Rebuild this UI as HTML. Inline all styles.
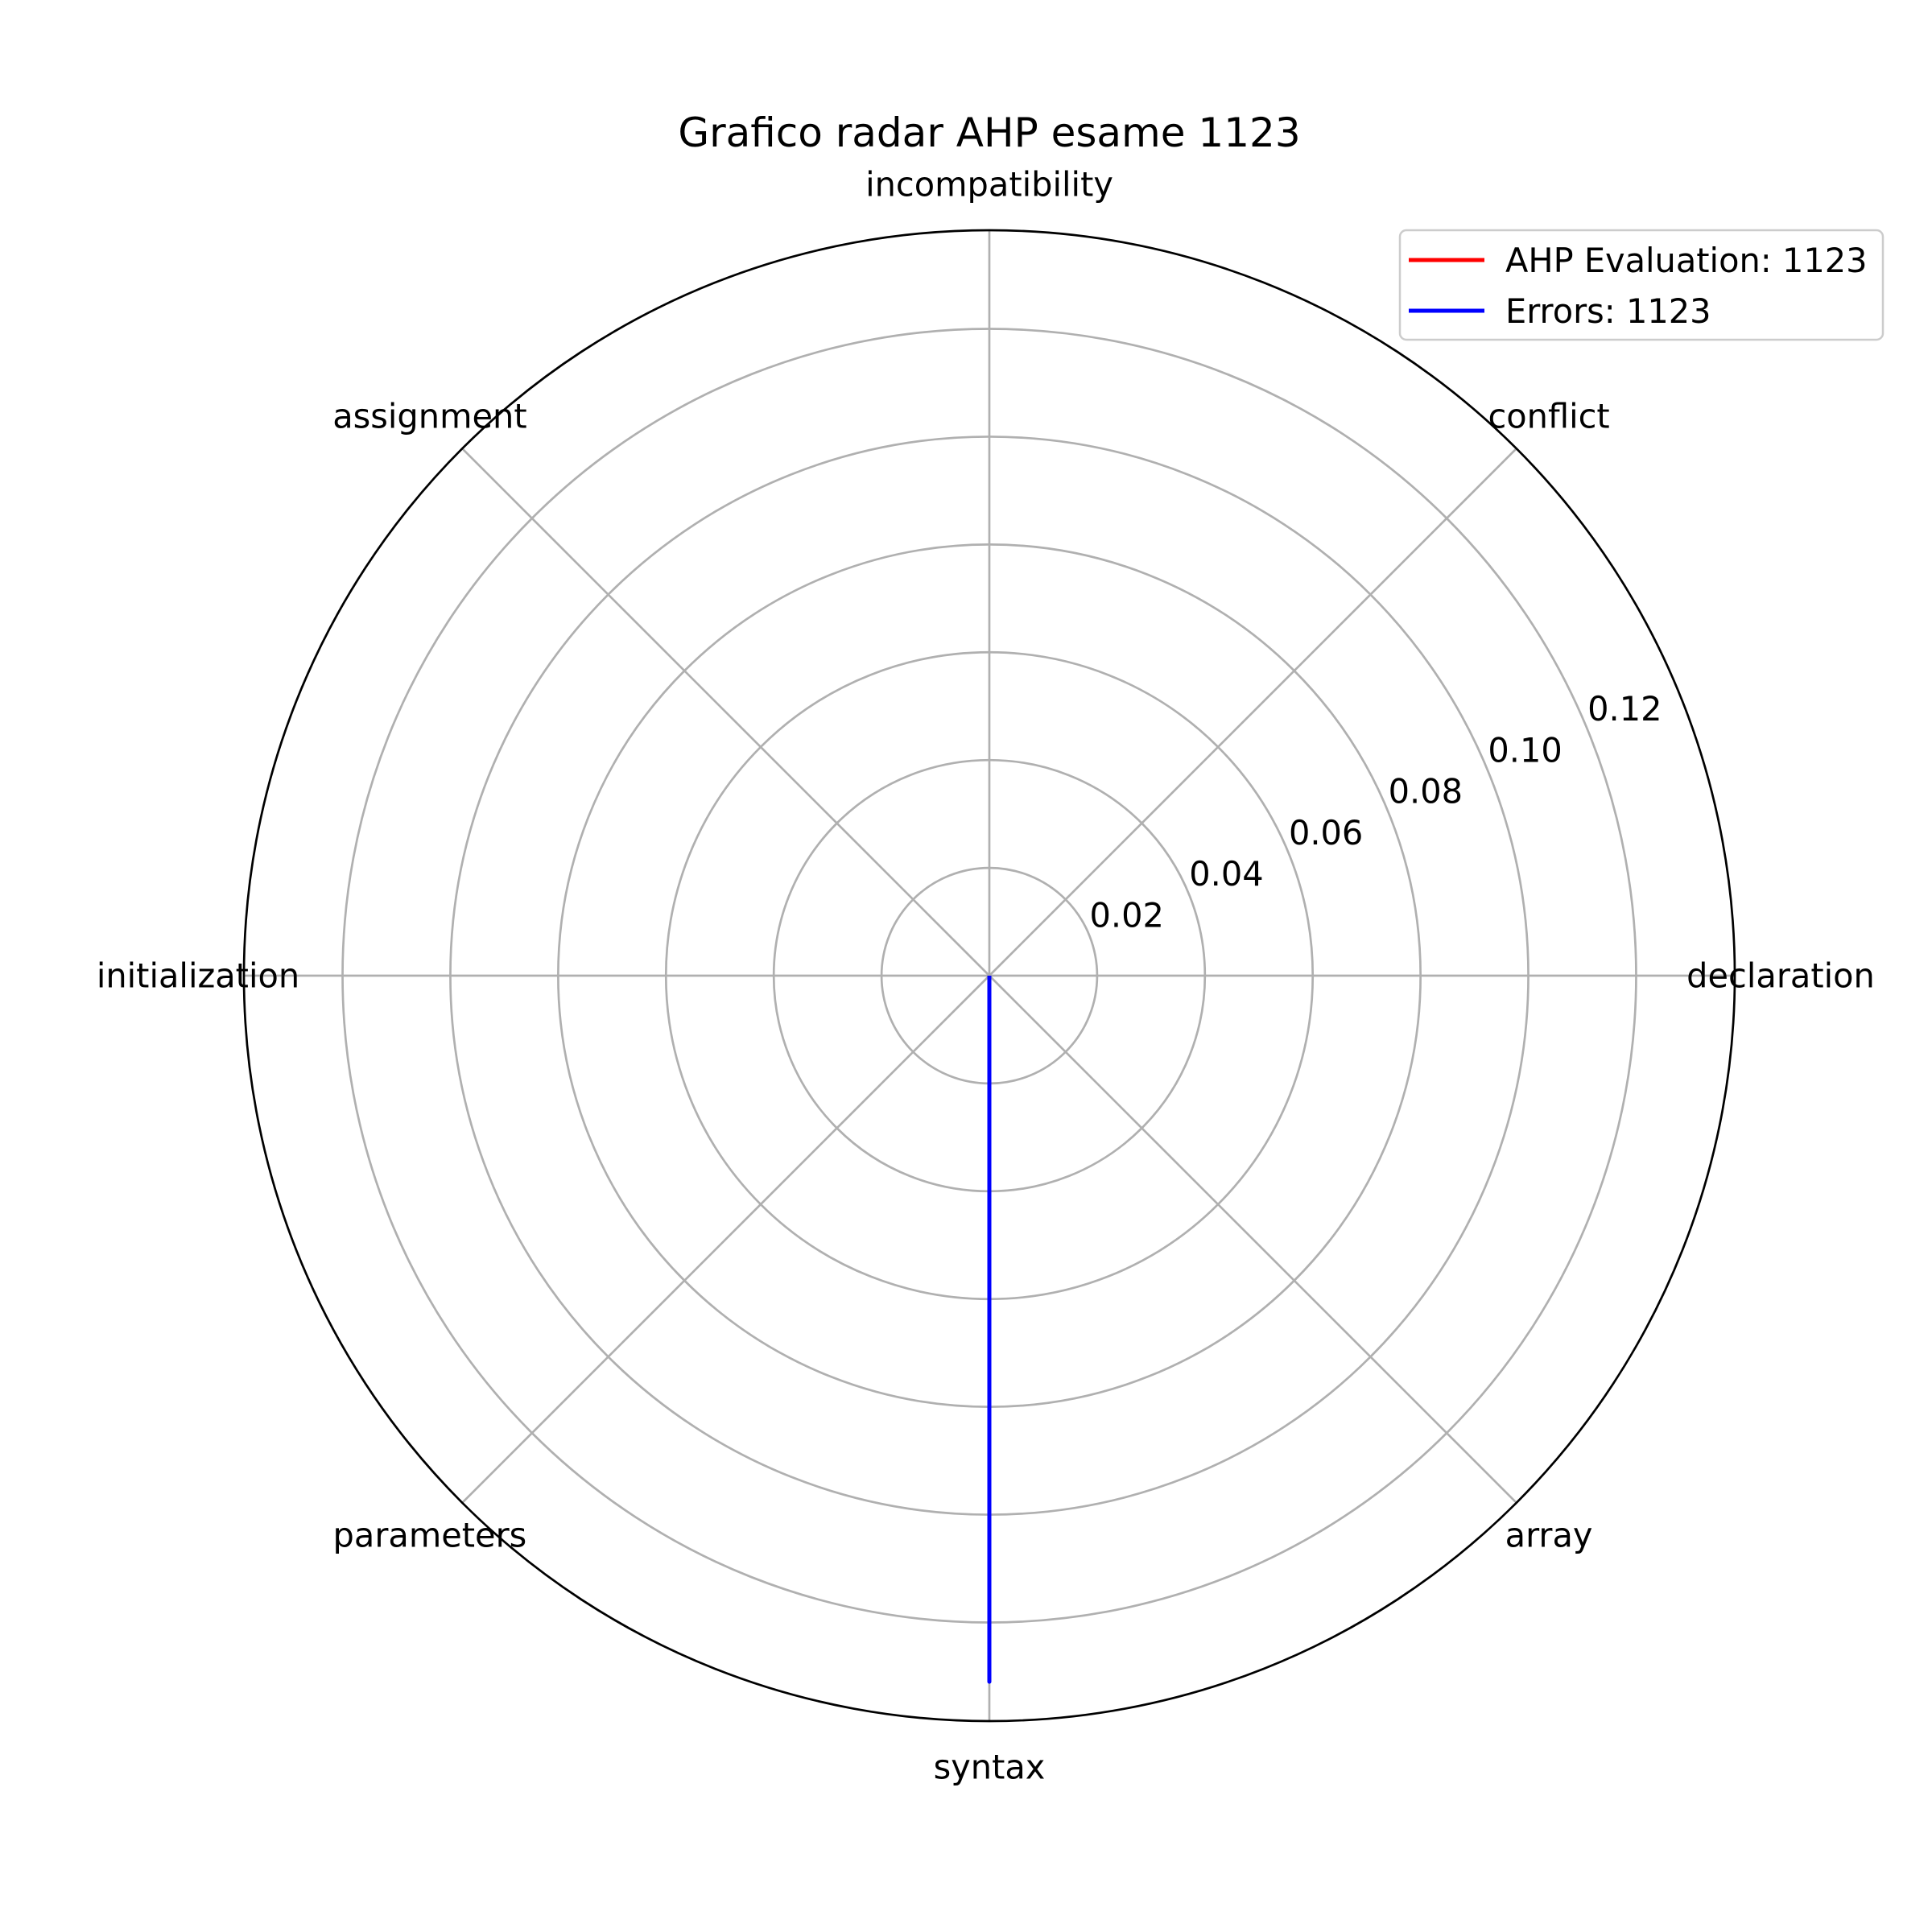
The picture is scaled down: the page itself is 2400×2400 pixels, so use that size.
<!DOCTYPE html>
<html><head><meta charset="utf-8"><style>
html,body{margin:0;padding:0;background:#fff;}
svg{display:block;font-family:"DejaVu Sans","Liberation Sans",sans-serif;}
</style></head><body>
<svg id="chart" width="2400" height="2400" viewBox="0 0 2400 2400" xmlns="http://www.w3.org/2000/svg">
<rect width="2400" height="2400" fill="#fff"/>
<g id="grid"></g>
<g id="series"></g>
<g id="labels"></g>
<text x="1229" y="182" font-size="50" text-anchor="middle" fill="#000">Grafico radar AHP esame 1123</text>
<g>
<rect x="1739" y="286" width="600" height="136" rx="8" fill="#fff" fill-opacity="0.8" stroke="#ccc" stroke-width="2.5"/>
<line x1="1750" y1="323" x2="1844" y2="323" stroke="#ff0000" stroke-width="5"/>
<text x="1870" y="338" font-size="41.5" fill="#000">AHP Evaluation: 1123</text>
<line x1="1750" y1="386" x2="1844" y2="386" stroke="#0000ff" stroke-width="5"/>
<text x="1870" y="401" font-size="41.5" fill="#000">Errors: 1123</text>
</g>
</svg>
<script>
const categories = ["declaration","conflict","incompatibility","assignment","initialization","parameters","syntax","array"];
const ahpValues = [0,0,0,0,0,0,0,0];
const errorValues = [0,0,0,0,0,0,0.131,0];
const rTicks = [0.02,0.04,0.06,0.08,0.10,0.12];
const rTickLabels = ["0.02","0.04","0.06","0.08","0.10","0.12"];
const rMax = 0.1383;

const NS = "http://www.w3.org/2000/svg";
const cx = 1229, cy = 1212, R = 926;
function rScale(v){ return v / rMax * R; }
function angle(i){ return i * 2 * Math.PI / categories.length; }
function pt(i, v){ const a = angle(i), r = rScale(v); return [cx + r*Math.cos(a), cy - r*Math.sin(a)]; }
function mk(tag, attrs, parent){ const e = document.createElementNS(NS, tag); for (const k in attrs) e.setAttribute(k, attrs[k]); parent.appendChild(e); return e; }

const grid = document.getElementById('grid');
rTicks.forEach((t, i) => {
  const c = mk('circle', {cx:cx, cy:cy, r:rScale(t), fill:'none', stroke:'#b0b0b0', 'stroke-width':2.7}, grid);
  
  
});
categories.forEach((c, i) => {
  const a = angle(i);
  const l = mk('line', {x1:cx, y1:cy, x2:cx + R*Math.cos(a), y2:cy - R*Math.sin(a), stroke:'#b0b0b0', 'stroke-width':2.7}, grid);
  
  
});
const outer = mk('circle', {cx:cx, cy:cy, r:R, fill:'none', stroke:'#000', 'stroke-width':2.7}, grid);



const labels = document.getElementById('labels');
categories.forEach((c, i) => {
  const a = angle(i);
  const t = mk('text', {x:cx + 983*Math.cos(a), y:cy - 983*Math.sin(a), 'font-size':41.5, 'text-anchor':'middle', 'dominant-baseline':'central', fill:'#000'}, labels);
  t.textContent = c;
  
  
});
const ra = 22.5 * Math.PI / 180;
rTicks.forEach((v, i) => {
  const r = rScale(v);
  const t = mk('text', {x:cx + r*Math.cos(ra) + 47, y:cy - r*Math.sin(ra) - 24, 'font-size':41.5, 'text-anchor':'middle', 'dominant-baseline':'central', fill:'#000'}, labels);
  t.textContent = rTickLabels[i];
  
  
});

const series = document.getElementById('series');
function drawSeries(vals, color, name){
  const pts = vals.map((v, i) => pt(i, v));
  pts.push(pts[0]);
  const p = mk('polyline', {points: pts.map(p => p.join(',')).join(' '), fill:'none', stroke:color, 'stroke-width':5, 'stroke-linejoin':'round'}, series);
  
  
}
drawSeries(ahpValues, '#ff0000', 'ahp-evaluation-line');
drawSeries(errorValues, '#0000ff', 'errors-line');
</script>
</body></html>
